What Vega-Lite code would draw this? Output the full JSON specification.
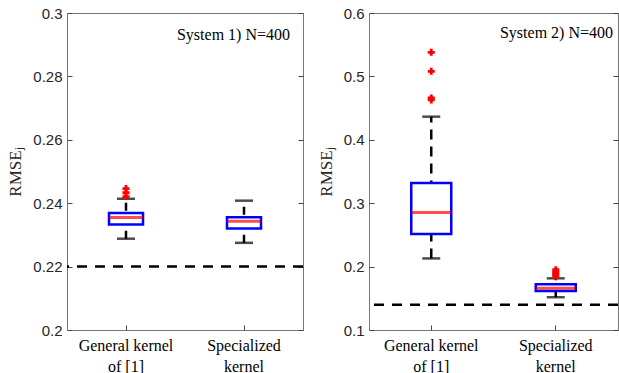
{
  "$schema": "https://vega.github.io/schema/vega-lite/v6.json",
  "padding": {"left": 6, "top": 5, "right": 0, "bottom": 0},
  "background": "white",
  "config": {
    "view": {"stroke": "#777777", "strokeWidth": 1},
    "concat": {"spacing": 11},
    "axis": {"grid": false, "domain": false, "tickColor": "#444444", "tickSize": -5, "tickWidth": 1, "labelColor": "#262626", "titleColor": "#262626"}
  },
  "datasets": {
    "boxes": [
      {"panel": 1, "kernel": "General kernel|of [1]", "lo": 0.2288, "q1": 0.2333, "med": 0.2355, "q3": 0.2369, "hi": 0.2414},
      {"panel": 1, "kernel": "Specialized|kernel", "lo": 0.2275, "q1": 0.2320, "med": 0.2343, "q3": 0.2356, "hi": 0.2408},
      {"panel": 2, "kernel": "General kernel|of [1]", "lo": 0.2129, "q1": 0.2516, "med": 0.2855, "q3": 0.3320, "hi": 0.4365},
      {"panel": 2, "kernel": "Specialized|kernel", "lo": 0.1517, "q1": 0.1616, "med": 0.1658, "q3": 0.1720, "hi": 0.1815}
    ],
    "outliers": [
      {"panel": 1, "kernel": "General kernel|of [1]", "value": 0.2446},
      {"panel": 1, "kernel": "General kernel|of [1]", "value": 0.2433},
      {"panel": 1, "kernel": "General kernel|of [1]", "value": 0.2421},
      {"panel": 2, "kernel": "General kernel|of [1]", "value": 0.538},
      {"panel": 2, "kernel": "General kernel|of [1]", "value": 0.508},
      {"panel": 2, "kernel": "General kernel|of [1]", "value": 0.466},
      {"panel": 2, "kernel": "General kernel|of [1]", "value": 0.463},
      {"panel": 2, "kernel": "Specialized|kernel", "value": 0.195},
      {"panel": 2, "kernel": "Specialized|kernel", "value": 0.191},
      {"panel": 2, "kernel": "Specialized|kernel", "value": 0.188},
      {"panel": 2, "kernel": "Specialized|kernel", "value": 0.185}
    ],
    "refs": [
      {"panel": 1, "ref": 0.22, "label": "System 1) N=400", "ty": 0.2931},
      {"panel": 2, "ref": 0.14, "label": "System 2) N=400", "ty": 0.5687}
    ]
  },
  "hconcat": [
    {
      "width": 236,
      "height": 317,
      "layer": [
        {
          "data": {"name": "refs"},
          "transform": [{"filter": "datum.panel == 1"}],
          "mark": {"type": "rule", "strokeDash": [10, 8], "strokeWidth": 2.5, "color": "black"},
          "encoding": {
            "y": {"field": "ref", "type": "quantitative", "scale": {"domain": [0.2, 0.3], "nice": false, "zero": false},
              "axis": {"orient": "left", "values": [0.2, 0.22, 0.24, 0.26, 0.28, 0.3], "format": ".2~f", "labelFont": "Liberation Sans", "labelFontSize": 15, "labelPadding": 10, "title": "RMSEⱼ", "titleFont": "Liberation Serif", "titleFontSize": 17, "titleFontWeight": "normal", "titlePadding": 8}}
          }
        },
        {
          "data": {"name": "boxes"},
          "transform": [{"filter": "datum.panel == 1"}],
          "mark": {"type": "rule", "strokeDash": [8, 6], "strokeWidth": 2.5, "color": "black"},
          "encoding": {
            "x": {"field": "kernel", "type": "nominal", "sort": null, "scale": {"type": "band", "domain": ["General kernel|of [1]", "Specialized|kernel"], "paddingInner": 0, "paddingOuter": 0},
              "axis": {"title": null, "labelAngle": 0, "labelExpr": "split(datum.label, '|')", "labelFont": "Liberation Serif", "labelFontSize": 16, "labelColor": "black", "labelLineHeight": 21, "labelPadding": 12}},
            "y": {"field": "lo", "type": "quantitative", "axis": null},
            "y2": {"field": "hi"}
          }
        },
        {
          "data": {"name": "boxes"},
          "transform": [{"filter": "datum.panel == 1"}],
          "mark": {"type": "tick", "size": 18, "thickness": 2.5, "color": "black"},
          "encoding": {"x": {"field": "kernel", "type": "nominal"}, "y": {"field": "lo", "type": "quantitative", "axis": null}}
        },
        {
          "data": {"name": "boxes"},
          "transform": [{"filter": "datum.panel == 1"}],
          "mark": {"type": "tick", "size": 18, "thickness": 2.5, "color": "black"},
          "encoding": {"x": {"field": "kernel", "type": "nominal"}, "y": {"field": "hi", "type": "quantitative", "axis": null}}
        },
        {
          "data": {"name": "boxes"},
          "transform": [{"filter": "datum.panel == 1"}],
          "mark": {"type": "bar", "size": 34, "fill": "white", "stroke": "#0000ff", "strokeWidth": 2.5},
          "encoding": {"x": {"field": "kernel", "type": "nominal"}, "y": {"field": "q1", "type": "quantitative", "axis": null}, "y2": {"field": "q3"}}
        },
        {
          "data": {"name": "boxes"},
          "transform": [{"filter": "datum.panel == 1"}],
          "mark": {"type": "tick", "size": 33, "thickness": 3, "color": "#ff0000"},
          "encoding": {"x": {"field": "kernel", "type": "nominal"}, "y": {"field": "med", "type": "quantitative", "axis": null}}
        },
        {
          "data": {"name": "outliers"},
          "transform": [{"filter": "datum.panel == 1"}],
          "mark": {"type": "point", "shape": "cross", "filled": true, "size": 50, "color": "#ff0000", "opacity": 1},
          "encoding": {"x": {"field": "kernel", "type": "nominal"}, "y": {"field": "value", "type": "quantitative",
            "axis": {"orient": "right", "values": [0.2, 0.22, 0.24, 0.26, 0.28, 0.3], "labels": false, "title": null}}}
        },
        {
          "data": {"name": "refs"},
          "transform": [{"filter": "datum.panel == 1"}],
          "mark": {"type": "text", "align": "right", "baseline": "middle", "dx": -13, "font": "Liberation Serif", "fontSize": 16, "color": "black"},
          "encoding": {"x": {"value": "width"}, "y": {"field": "ty", "type": "quantitative", "axis": null}, "text": {"field": "label"}}
        }
      ],
      "resolve": {"axis": {"y": "independent"}}
    },
    {
      "width": 249,
      "height": 317,
      "layer": [
        {
          "data": {"name": "refs"},
          "transform": [{"filter": "datum.panel == 2"}],
          "mark": {"type": "rule", "strokeDash": [10, 8], "strokeWidth": 2.5, "color": "black"},
          "encoding": {
            "y": {"field": "ref", "type": "quantitative", "scale": {"domain": [0.1, 0.6], "nice": false, "zero": false},
              "axis": {"orient": "left", "values": [0.1, 0.2, 0.3, 0.4, 0.5, 0.6], "format": ".1f", "labelFont": "Liberation Sans", "labelFontSize": 15, "labelPadding": 10, "title": "RMSEⱼ", "titleFont": "Liberation Serif", "titleFontSize": 17, "titleFontWeight": "normal", "titlePadding": 8}}
          }
        },
        {
          "data": {"name": "boxes"},
          "transform": [{"filter": "datum.panel == 2"}],
          "mark": {"type": "rule", "strokeDash": [10, 7], "strokeWidth": 2.5, "color": "black"},
          "encoding": {
            "x": {"field": "kernel", "type": "nominal", "sort": null, "scale": {"type": "band", "domain": ["General kernel|of [1]", "Specialized|kernel"], "paddingInner": 0, "paddingOuter": 0},
              "axis": {"title": null, "labelAngle": 0, "labelExpr": "split(datum.label, '|')", "labelFont": "Liberation Serif", "labelFontSize": 16, "labelColor": "black", "labelLineHeight": 21, "labelPadding": 12}},
            "y": {"field": "lo", "type": "quantitative", "axis": null},
            "y2": {"field": "hi"}
          }
        },
        {
          "data": {"name": "boxes"},
          "transform": [{"filter": "datum.panel == 2"}],
          "mark": {"type": "tick", "size": 18, "thickness": 2.5, "color": "black"},
          "encoding": {"x": {"field": "kernel", "type": "nominal"}, "y": {"field": "lo", "type": "quantitative", "axis": null}}
        },
        {
          "data": {"name": "boxes"},
          "transform": [{"filter": "datum.panel == 2"}],
          "mark": {"type": "tick", "size": 18, "thickness": 2.5, "color": "black"},
          "encoding": {"x": {"field": "kernel", "type": "nominal"}, "y": {"field": "hi", "type": "quantitative", "axis": null}}
        },
        {
          "data": {"name": "boxes"},
          "transform": [{"filter": "datum.panel == 2"}],
          "mark": {"type": "bar", "size": 40, "fill": "white", "stroke": "#0000ff", "strokeWidth": 2.5},
          "encoding": {"x": {"field": "kernel", "type": "nominal"}, "y": {"field": "q1", "type": "quantitative", "axis": null}, "y2": {"field": "q3"}}
        },
        {
          "data": {"name": "boxes"},
          "transform": [{"filter": "datum.panel == 2"}],
          "mark": {"type": "tick", "size": 39, "thickness": 3, "color": "#ff0000"},
          "encoding": {"x": {"field": "kernel", "type": "nominal"}, "y": {"field": "med", "type": "quantitative", "axis": null}}
        },
        {
          "data": {"name": "outliers"},
          "transform": [{"filter": "datum.panel == 2"}],
          "mark": {"type": "point", "shape": "cross", "filled": true, "size": 50, "color": "#ff0000", "opacity": 1},
          "encoding": {"x": {"field": "kernel", "type": "nominal"}, "y": {"field": "value", "type": "quantitative",
            "axis": {"orient": "right", "values": [0.1, 0.2, 0.3, 0.4, 0.5, 0.6], "labels": false, "title": null}}}
        },
        {
          "data": {"name": "refs"},
          "transform": [{"filter": "datum.panel == 2"}],
          "mark": {"type": "text", "align": "right", "baseline": "middle", "dx": -5, "font": "Liberation Serif", "fontSize": 16, "color": "black"},
          "encoding": {"x": {"value": "width"}, "y": {"field": "ty", "type": "quantitative", "axis": null}, "text": {"field": "label"}}
        }
      ],
      "resolve": {"axis": {"y": "independent"}}
    }
  ]
}
